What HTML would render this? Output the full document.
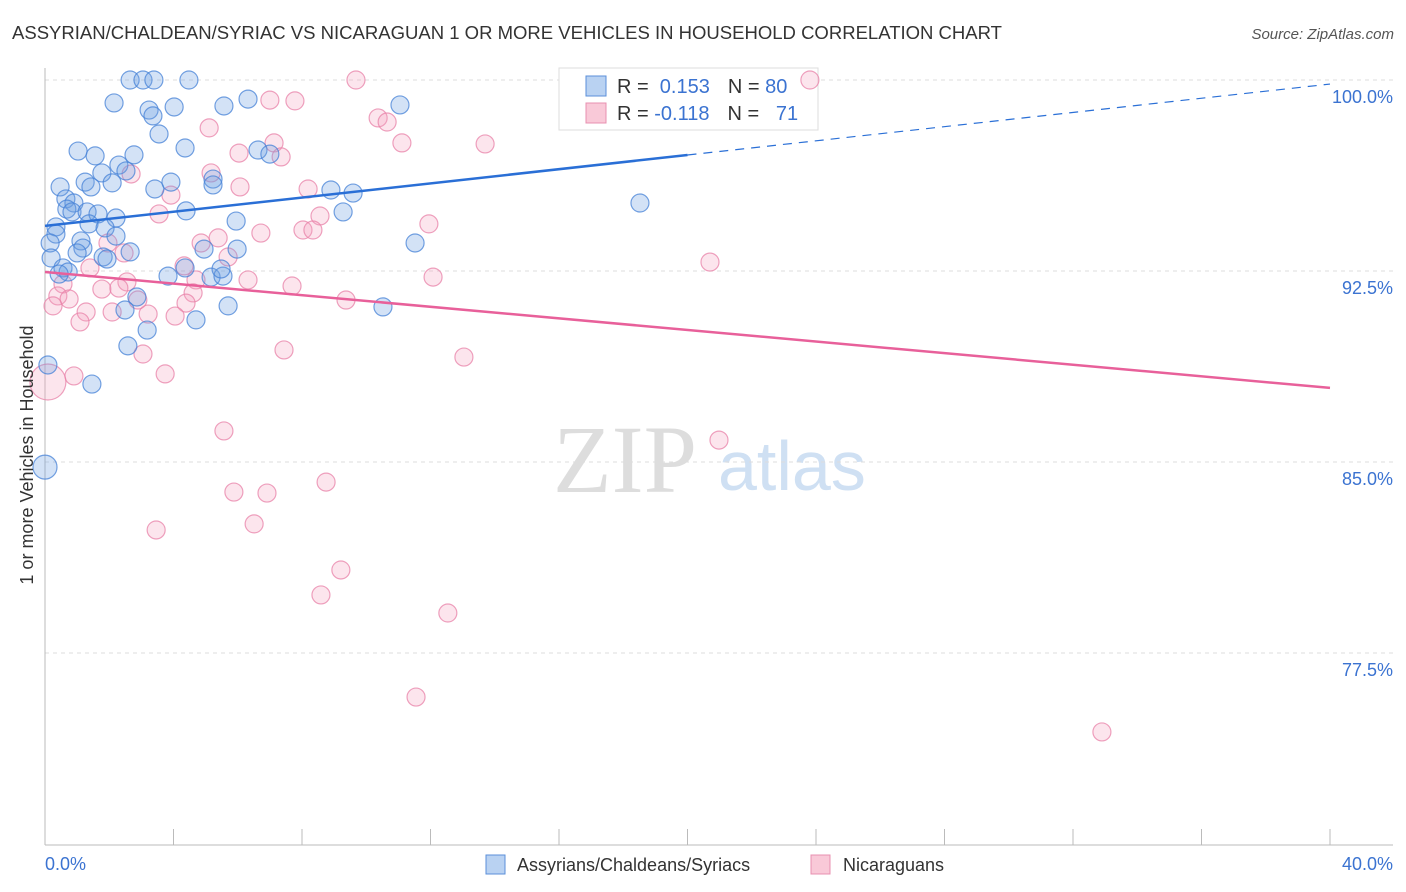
<!DOCTYPE html>
<html><head><meta charset="utf-8"><style>
body{margin:0;background:#fff;font-family:"Liberation Sans",sans-serif;}
svg{display:block}
</style></head><body>
<svg width="1406" height="892">
<text x="12" y="39" font-size="18.4" fill="#333" textLength="990" lengthAdjust="spacingAndGlyphs">ASSYRIAN/CHALDEAN/SYRIAC VS NICARAGUAN 1 OR MORE VEHICLES IN HOUSEHOLD CORRELATION CHART</text>
<text x="1394" y="39" font-size="15" fill="#555" font-style="italic" text-anchor="end">Source: ZipAtlas.com</text>
<g>
<text x="553" y="492" font-size="96" font-family="Liberation Serif,serif" fill="#ddd">ZIP</text>
<text x="718" y="490" font-size="70" fill="#cfe0f3">atlas</text>
</g>
<g id="grid"></g>
<g id="axes"></g>
<g>
<rect x="559" y="68" width="259" height="62" fill="#fff" stroke="#ddd"/>
<rect x="586" y="76" width="20" height="20" fill="#b9d2f2" stroke="#5b8fd9"/>
<rect x="586" y="103" width="20" height="20" fill="#f9c9d8" stroke="#e890b0"/>
<text x="617" y="93" font-size="20" fill="#333">R = <tspan fill="#3b73d1">&#160;0.153</tspan><tspan dx="18">N = </tspan><tspan fill="#3b73d1">80</tspan></text>
<text x="617" y="120" font-size="20" fill="#333">R = <tspan fill="#3b73d1">-0.118</tspan><tspan dx="18">N = </tspan><tspan fill="#3b73d1">&#160;&#160;71</tspan></text>
</g>
<g id="pts"></g>
<g id="lines"></g>
<text transform="translate(33,455) rotate(-90)" font-size="18" fill="#333" text-anchor="middle">1 or more Vehicles in Household</text>
<text x="45" y="870" font-size="18" fill="#3b73d1">0.0%</text>
<text x="1393" y="870" font-size="18" fill="#3b73d1" text-anchor="end">40.0%</text>
<g>
<rect x="486" y="855" width="19" height="19" fill="#b9d2f2" stroke="#5b8fd9"/>
<text x="517" y="871" font-size="18" fill="#333">Assyrians/Chaldeans/Syriacs</text>
<rect x="811" y="855" width="19" height="19" fill="#f9c9d8" stroke="#e890b0"/>
<text x="843" y="871" font-size="18" fill="#333">Nicaraguans</text>
</g>
</svg>
<script>
const yTicks=[100,92.5,85,77.5];
const yTickLabels=["100.0%","92.5%","85.0%","77.5%"];
const xTicks=[0,4,8,12,16,20,24,28,32,36,40];
const blueX=[2.65,3.05,3.39,4.48,2.15,3.24,4.02,3.36,5.57,6.32,11.05,3.55,4.36,1.03,1.56,2.77,2.30,6.63,7.00,1.77,2.52,5.23,0.47,1.25,2.09,1.43,3.42,3.92,5.23,8.90,9.59,0.65,0.90,0.68,0.84,1.31,1.65,2.21,4.39,9.28,5.95,18.52,0.34,0.34,1.37,1.87,2.21,0.16,1.12,1.18,0.19,1.00,2.65,4.95,5.98,11.52,1.81,1.93,0.56,0.72,3.83,4.36,5.17,5.54,5.48,5.70,2.86,2.49,4.70,10.52,3.18,2.58,0.09,1.46,0.0,0.44];
const blueY=[100,100,100,100,99.10,98.82,98.94,98.59,98.98,99.25,99.02,97.88,97.33,97.21,97.02,97.06,96.66,97.25,97.09,96.35,96.43,96.11,95.80,95.99,95.96,95.80,95.72,95.99,95.88,95.68,95.56,95.33,95.17,94.93,94.82,94.82,94.74,94.58,94.86,94.82,94.46,95.17,94.23,93.95,94.35,94.19,93.87,93.60,93.68,93.40,93.01,93.21,93.25,93.36,93.36,93.60,93.05,92.97,92.62,92.46,92.30,92.62,92.26,92.30,92.58,91.13,91.48,90.97,90.58,91.09,90.18,89.56,88.81,88.06,84.80,92.38];
const pinkX=[9.68,23.81,7.00,7.78,10.37,10.65,5.11,11.11,13.70,7.13,6.04,7.35,5.17,2.68,6.07,8.19,3.92,3.55,8.56,8.03,8.34,6.72,11.95,5.39,4.86,1.96,2.46,5.70,4.33,1.40,20.70,6.32,4.70,12.08,0.56,7.69,2.55,1.77,2.30,0.40,0.75,4.61,4.39,2.89,9.37,0.25,1.28,2.09,3.21,4.05,1.09,7.44,3.05,13.04,3.74,0.90,0.09,5.57,20.98,8.75,5.88,6.91,3.46,6.51,9.21,8.59,12.54,11.55,32.90];
const pinkY=[100,100,99.21,99.18,98.51,98.35,98.12,97.53,97.49,97.53,97.13,96.98,96.35,96.31,95.80,95.72,95.48,94.74,94.66,94.11,94.11,93.99,94.35,93.80,93.60,93.60,93.21,93.05,92.70,92.62,92.85,92.15,92.15,92.26,91.99,91.91,92.07,91.79,91.83,91.52,91.40,91.64,91.24,91.36,91.36,91.13,90.89,90.89,90.81,90.73,90.50,89.40,89.24,89.12,88.46,88.38,88.14,86.22,85.86,84.21,83.82,83.78,82.33,82.57,80.76,79.78,79.07,75.77,74.40];
const blueBig=[74];
const pinkBig=[56];
const blueTrend=[94.27,99.84];
const pinkTrend=[92.46,87.91];
const blueSolidEnd=20;
const X=v=>45+v*(1285/40);
const Y=v=>80+(100-v)*(764/30);
const NS="http://www.w3.org/2000/svg";
function mk(p,t,a){const e=document.createElementNS(NS,t);for(const k in a)e.setAttribute(k,a[k]);p.appendChild(e);return e;}
const grid=document.getElementById('grid'),axes=document.getElementById('axes'),pts=document.getElementById('pts'),lines=document.getElementById('lines');
yTicks.forEach((t,i)=>{
 const l=mk(grid,'line',{x1:45,x2:1393,y1:Y(t),y2:Y(t),stroke:'#ddd','stroke-dasharray':'4,4'});
 
 
 const tx=mk(grid,'text',{x:1393,y:Y(t)+23,'font-size':18,fill:'#3b73d1','text-anchor':'end'});
 tx.textContent=yTickLabels[i];
 
 
});
const ax=mk(axes,'line',{x1:45,x2:45,y1:68,y2:845,stroke:'#bbb'});


const bx=mk(axes,'line',{x1:45,x2:1393,y1:845,y2:845,stroke:'#bbb'});


xTicks.forEach(t=>{
 const l=mk(axes,'line',{x1:X(t),x2:X(t),y1:829,y2:845,stroke:'#bbb'});
 
 
});
function drawPts(xs,ys,big,fill,stroke,nm,bigR){
 xs.forEach((x,i)=>{
  const c=mk(pts,'circle',{cx:X(x),cy:Y(ys[i]),r:big.includes(i)?bigR:9,fill:fill,stroke:stroke,'stroke-width':1.2});
  
  
 });
}
drawPts(pinkX,pinkY,pinkBig,'rgba(243,160,190,0.28)','rgba(232,130,168,0.75)','nicaraguan-point',18);
drawPts(blueX,blueY,blueBig,'rgba(110,160,225,0.3)','rgba(70,130,215,0.75)','assyrian-point',12);
const by=x=>blueTrend[0]+(blueTrend[1]-blueTrend[0])*x/40;
const b1=mk(lines,'line',{x1:X(0),y1:Y(by(0)),x2:X(blueSolidEnd),y2:Y(by(blueSolidEnd)),stroke:'#2a6fd6','stroke-width':2.5});


const b2=mk(lines,'line',{x1:X(blueSolidEnd),y1:Y(by(blueSolidEnd)),x2:X(40),y2:Y(by(40)),stroke:'#2a6fd6','stroke-width':1.2,'stroke-dasharray':'9,7'});


const p1=mk(lines,'line',{x1:X(0),y1:Y(pinkTrend[0]),x2:X(40),y2:Y(pinkTrend[1]),stroke:'#e8609a','stroke-width':2.5});


</script>
</body></html>
